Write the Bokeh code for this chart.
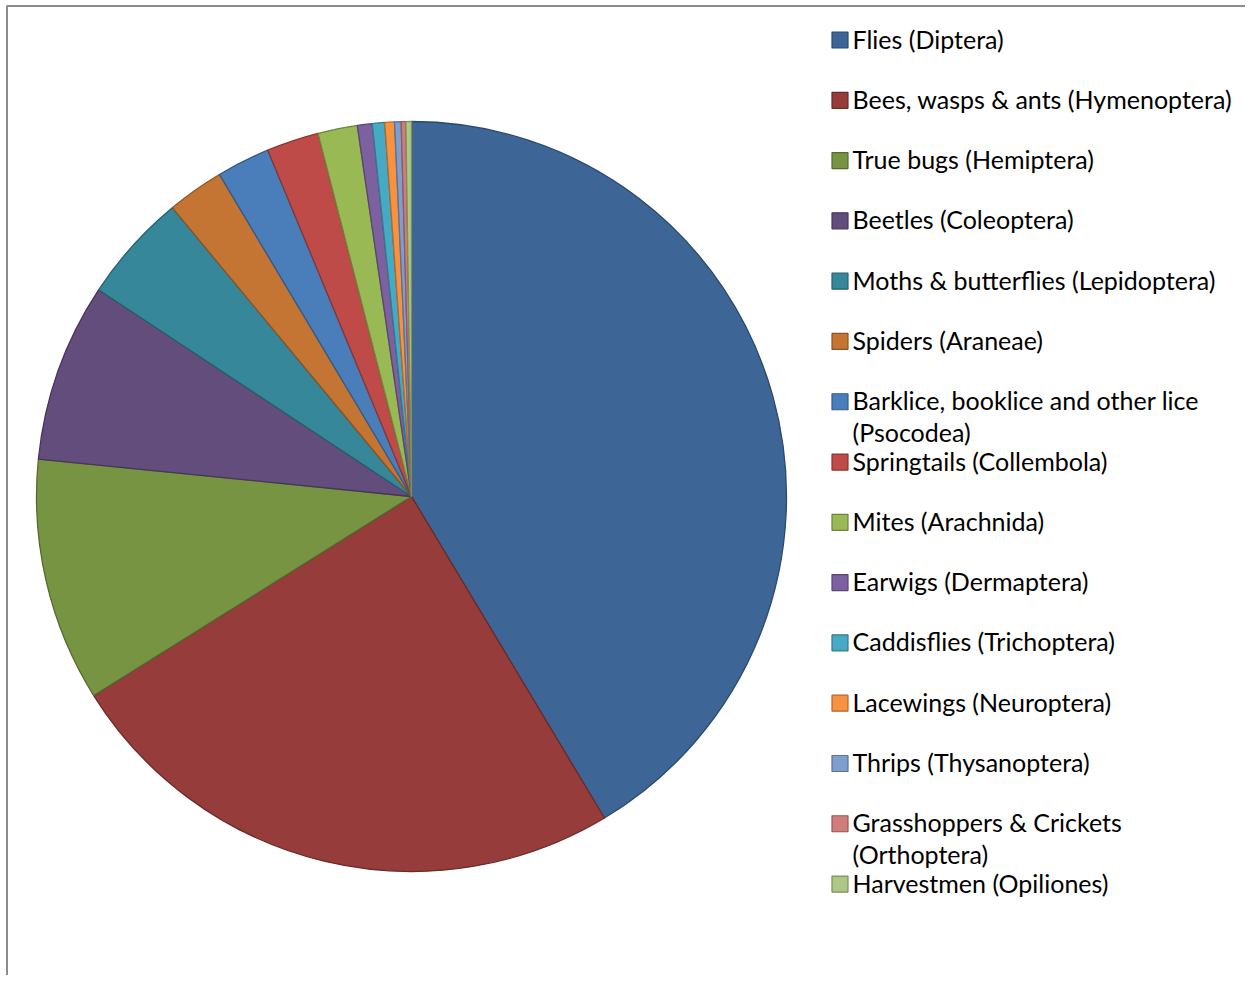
import numpy as np
from bokeh.plotting import figure
from bokeh.models import Range1d, ColumnDataSource
from bokeh.core.properties import value
from bokeh.embed import file_html
from bokeh.resources import INLINE

# ---- data ----
categories = [
    "Flies (Diptera)",
    "Bees, wasps & ants (Hymenoptera)",
    "True bugs (Hemiptera)",
    "Beetles (Coleoptera)",
    "Moths & butterflies (Lepidoptera)",
    "Spiders (Araneae)",
    "Barklice, booklice and other lice\n(Psocodea)",
    "Springtails (Collembola)",
    "Mites (Arachnida)",
    "Earwigs (Dermaptera)",
    "Caddisflies (Trichoptera)",
    "Lacewings (Neuroptera)",
    "Thrips (Thysanoptera)",
    "Grasshoppers & Crickets\n(Orthoptera)",
    "Harvestmen (Opiliones)",
]
shares = [41.4, 24.7, 10.5, 7.7, 4.7, 2.45, 2.3, 2.25, 1.7, 0.64, 0.53, 0.42, 0.28, 0.2, 0.24]

# ---- styles ----
colors = ["#3D6696", "#963C3A", "#779443", "#624D7D", "#36879A", "#C47533",
          "#4A7EBB", "#BE4B48", "#98B954", "#7D60A0", "#46AAC5", "#F69240",
          "#7F9ECF", "#D07C7B", "#ADC785"]

def darker(h, f=0.72):
    r, g, b = int(h[1:3], 16), int(h[3:5], 16), int(h[5:7], 16)
    return "#%02X%02X%02X" % (int(r * f), int(g * f), int(b * f))

edges = [darker(c) for c in colors]

W, H = 1245, 975
p = figure(width=W, height=H, x_range=Range1d(0, W), y_range=Range1d(0, H),
           output_backend="svg", toolbar_location=None, min_border=0,
           x_axis_location=None, y_axis_location=None)
p.grid.visible = False
p.outline_line_color = None
p.background_fill_color = "white"
p.border_fill_color = "white"

# frame lines (top and left)
p.line(x=[6.5, 6.5, W + 5], y=[-5, 969.5, 969.5], line_color="#8C8C8C", line_width=2)

# ---- pie ----
frac = np.array(shares) / np.sum(shares)
cum = np.concatenate([[0.0], np.cumsum(frac)])
start = np.pi / 2 - cum[1:] * 2 * np.pi
end = np.pi / 2 - cum[:-1] * 2 * np.pi
src = ColumnDataSource(dict(start=start, end=end, fill=colors, line=edges))
cx, cy, R = 411, 479, 375
p.wedge(x=cx, y=cy, radius=R, start_angle="start", end_angle="end",
        direction="anticlock", fill_color="fill", line_color="line",
        line_width=1.3, source=src)

# ---- legend ----
n = len(categories)
row_top = 975 - 39.5
step = 60.29
ys = [row_top - i * step for i in range(n)]
p.rect(x=[839.5] * n, y=ys, width=16, height=16, fill_color=colors,
       line_color=edges, line_width=1.2)
first_lines = [c.split("\n")[0] for c in categories]
text_ys = [y + 1.5 for y in ys]
tx, ty = [], []
for i, c in enumerate(categories):
    parts = c.split("\n")
    for j, part in enumerate(parts[1:], start=1):
        tx.append(part)
        ty.append(text_ys[i] - 32 * j)
font = value("Lato")
p.text(x=[852] * n, y=text_ys, text=first_lines, text_font=font, text_font_size="25px",
       text_baseline="middle", text_align="left", text_color="black")
p.text(x=[852] * len(tx), y=ty, text=tx, text_font=font, text_font_size="25px",
       text_baseline="middle", text_align="left", text_color="black")

open("out.html", "w").write(file_html(p, INLINE))
